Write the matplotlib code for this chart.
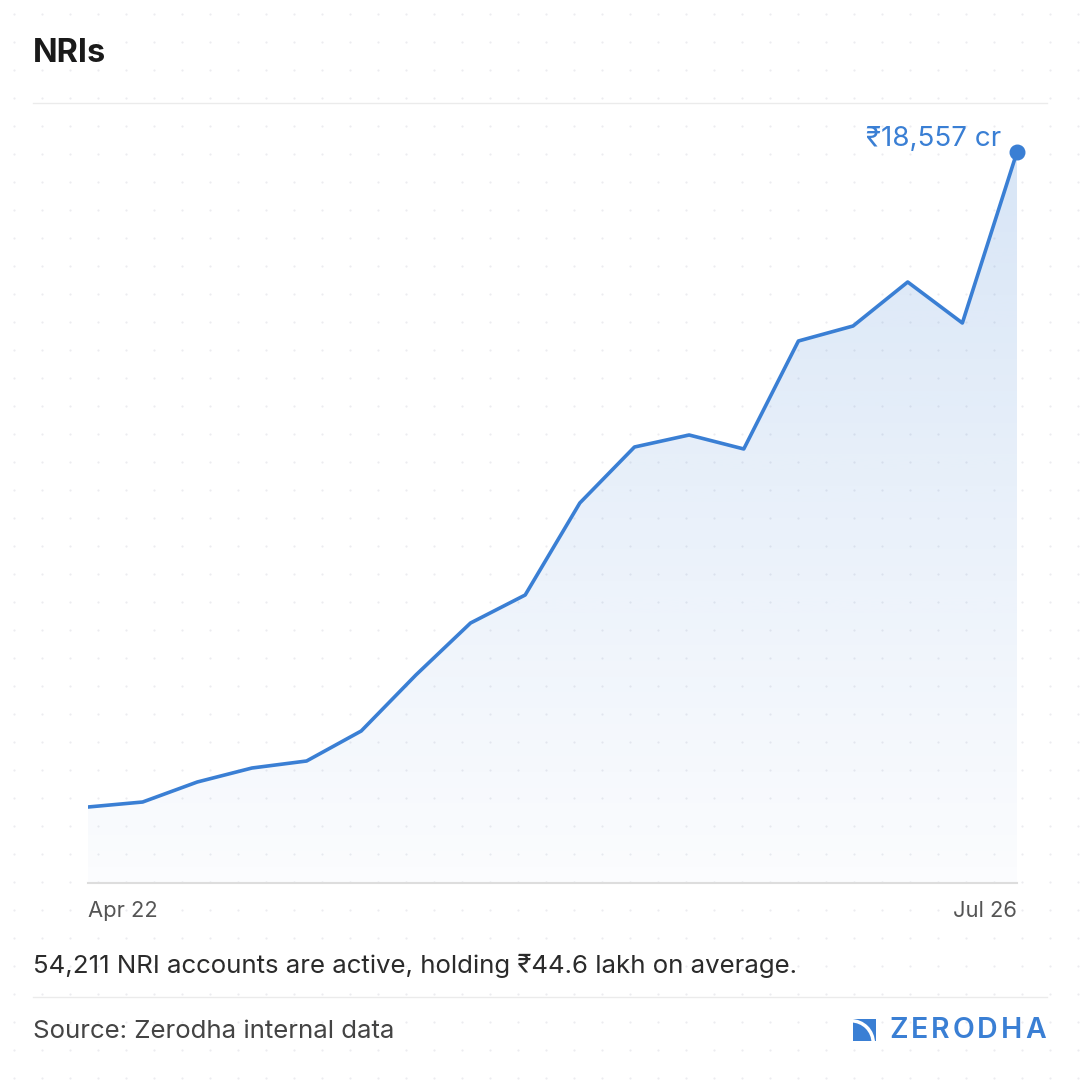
import matplotlib.pyplot as plt
import numpy as np
from matplotlib.patches import Rectangle, Wedge
from matplotlib.path import Path
from matplotlib.patches import PathPatch

plt.rcParams['font.family'] = ['Inter', 'DejaVu Sans']

# quarterly NRI holdings, Apr 22 .. Jul 26 (Rs crore)
quarters = np.arange(18)
holdings = [1929, 2056, 2564, 2919, 3097, 3859, 5280, 6600, 7311,
            9647, 11068, 11373, 11018, 13759, 14140, 15257, 14216, 18557]
start_label = 'Apr 22'
end_label = 'Jul 26'
last_label = '₹18,557 cr'

title = 'NRIs'
note = '54,211 NRI accounts are active, holding ₹44.6 lakh on average.'
source = 'Source: Zerodha internal data'

blue = '#3a7fd4'
W = H = 1080

fig = plt.figure(figsize=(10.8, 10.8), dpi=100)
fig.patch.set_facecolor('white')

# faint dotted background grid
bg = fig.add_axes([0, 0, 1, 1], zorder=-10)
bg.set_xlim(0, W)
bg.set_ylim(H, 0)
bg.axis('off')
g = np.arange(14, W, 28)
gx, gy = np.meshgrid(g, g)
bg.scatter(gx.ravel(), gy.ravel(), s=2.5, color='#ececf0', linewidths=0)

def fx(px):
    return px / W

def fy(py):
    return 1 - py / H

# title, rules, texts
fig.text(fx(33), fy(53), title, fontsize=23.3, fontweight='bold', color='#1a1a1a', va='center', ha='left')
fig.add_artist(plt.Line2D([fx(33), fx(1047)], [fy(103), fy(103)], color='#ebebeb', lw=1))
fig.text(fx(33), fy(966), note, fontsize=18.6, color='#2b2b2b', va='center', ha='left')
fig.add_artist(plt.Line2D([fx(33), fx(1047)], [fy(997), fy(997)], color='#ebebeb', lw=1))
fig.text(fx(33), fy(1031), source, fontsize=18.6, color='#444444', va='center', ha='left')

# chart
top_px, base_px, peak_px = 110, 883, 152
ax = fig.add_axes([fx(88), fy(base_px), fx(1017) - fx(88), (base_px - top_px) / H])
ax.set_facecolor('none')
ymax = max(holdings) * (base_px - top_px) / (base_px - peak_px)
ax.set_xlim(quarters[0], quarters[-1])
ax.set_ylim(0, ymax)
for s in ['top', 'right', 'left']:
    ax.spines[s].set_visible(False)
ax.spines['bottom'].set_color('#dddddd')
ax.spines['bottom'].set_linewidth(1.5)
ax.set_xticks([])
ax.set_yticks([])

# gradient fill under line
verts = [(quarters[0], 0)] + list(zip(quarters, holdings)) + [(quarters[-1], 0), (quarters[0], 0)]
clip = PathPatch(Path(verts), facecolor='none', edgecolor='none')
ax.add_patch(clip)
grad = np.linspace(0.02, 0.2, 256).reshape(-1, 1)
rgba = np.zeros((256, 1, 4))
rgba[..., 0] = 0x3a / 255
rgba[..., 1] = 0x7f / 255
rgba[..., 2] = 0xd4 / 255
rgba[..., 3] = grad
im = ax.imshow(rgba, extent=[quarters[0], quarters[-1], 0, max(holdings)], origin='lower',
               aspect='auto', zorder=1)
im.set_clip_path(clip)

ax.plot(quarters, holdings, color=blue, lw=2.6, zorder=3, solid_joinstyle='round')
ax.scatter([quarters[-1]], [holdings[-1]], s=110, color=blue, zorder=4, clip_on=False)
ax.annotate(last_label, (quarters[-1], holdings[-1]), xytext=(-11, 9), textcoords='offset points',
            ha='right', va='center', fontsize=20, color=blue)

fig.text(fx(88), fy(911), start_label, fontsize=15.8, color='#555555', va='center', ha='left')
fig.text(fx(1017), fy(911), end_label, fontsize=15.8, color='#555555', va='center', ha='right')

# logo
lg = fig.add_axes([0, 0, 1, 1], zorder=5)
lg.set_xlim(0, W)
lg.set_ylim(H, 0)
lg.axis('off')
lg.add_patch(Rectangle((853, 1019), 23, 22, color=blue, lw=0))
lg.add_patch(Wedge((851, 1043), 24, 270, 360, width=3.5, color='white', lw=0))

# spaced-out wordmark, letter by letter, filling 889..1046 px
fig.canvas.draw()
r = fig.canvas.get_renderer()
letters = [lg.text(0, 1030, ch, fontsize=20.5, color=blue, va='center', ha='left',
                   fontweight='semibold') for ch in 'ZERODHA']
widths = [t.get_window_extent(renderer=r).width for t in letters]
gap = (1046 - 889 - sum(widths)) / (len(letters) - 1)
x0 = 889
for t, w in zip(letters, widths):
    t.set_x(x0)
    x0 += w + gap

fig.savefig('out.png', dpi=100, facecolor='white')
